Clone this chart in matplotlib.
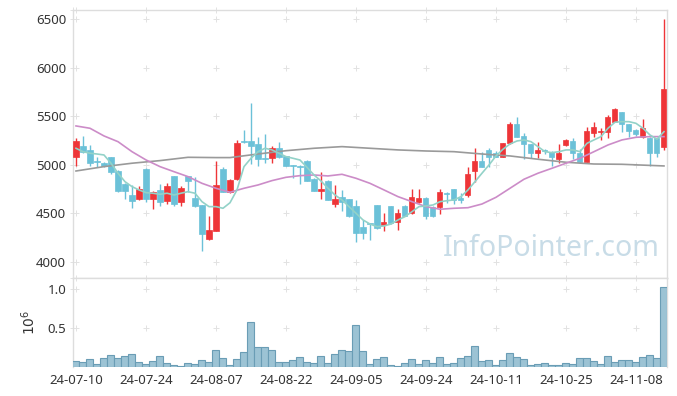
import numpy as np
import matplotlib
matplotlib.use('Agg')
import matplotlib.pyplot as plt

plt.rcParams['font.family'] = ['Noto Sans', 'DejaVu Sans']

# 거래일 라벨 (10일 간격)
tick_idx = [0, 10, 20, 30, 40, 50, 60, 70, 80]
tick_labels = ['24-07-10', '24-07-24', '24-08-07', '24-08-22', '24-09-05',
               '24-09-24', '24-10-11', '24-10-25', '24-11-08']

opens = [5078, 5195, 5154, 5035, 5023, 5078, 4937, 4803, 4690, 4649,
         4958, 4649, 4742, 4631, 4886, 4621, 4886, 4656, 4587, 4237,
         4322, 4958, 4718, 4852, 5250, 5246, 5215, 5075, 5075, 5171,
         5092, 4998, 4992, 5040, 4855, 4734, 4834, 4597, 4666, 4649,
         4577, 4364, 4398, 4587, 4381, 4577, 4415, 4580, 4502, 4621,
         4662, 4570, 4570, 4714, 4752, 4662, 4690, 4940, 5040, 5154,
         5126, 5085, 5223, 5421, 5298, 5215, 5119, 5150, 5136, 5061,
         5205, 5246, 5126, 5033, 5332, 5336, 5342, 5445, 5542, 5421,
         5360, 5291, 5274, 5274, 5180]
highs = [5280, 5298, 5205, 5078, 5030, 5085, 4947, 4810, 4793, 4786,
         4965, 4731, 4803, 4817, 4890, 4786, 4890, 4872, 4590, 4474,
         5040, 4982, 4855, 5257, 5360, 5635, 5284, 5315, 5195, 5233,
         5095, 5000, 4995, 5050, 4860, 4924, 4840, 4793, 4742, 4652,
         4639, 4433, 4400, 4590, 4508, 4580, 4543, 4585, 4749, 4752,
         4665, 4575, 4749, 4716, 4755, 4714, 4975, 5171, 5136, 5171,
         5140, 5229, 5445, 5497, 5332, 5220, 5239, 5165, 5140, 5212,
         5265, 5280, 5161, 5387, 5439, 5383, 5514, 5590, 5545, 5425,
         5365, 5470, 5291, 5280, 6500]
lows = [4992, 5120, 4989, 4982, 4982, 4906, 4718, 4649, 4553, 4639,
        4621, 4546, 4580, 4594, 4580, 4580, 4718, 4570, 4116, 4230,
        4315, 4718, 4708, 4845, 5223, 5009, 4989, 5017, 5017, 5068,
        4985, 4868, 4800, 4830, 4728, 4649, 4635, 4570, 4525, 4467,
        4203, 4234, 4227, 4340, 4322, 4395, 4330, 4470, 4491, 4604,
        4443, 4460, 4494, 4604, 4597, 4611, 4670, 4827, 4975, 4982,
        5080, 5080, 5215, 5285, 5058, 5075, 5075, 5110, 4989, 5017,
        5195, 5058, 5017, 5030, 5291, 5257, 5280, 5445, 5336, 5284,
        5300, 5274, 4992, 5085, 5154]
closes = [5246, 5136, 5023, 5025, 4989, 4930, 4731, 4731, 4628, 4749,
          4649, 4718, 4621, 4783, 4597, 4759, 4838, 4580, 4288, 4330,
          4793, 4724, 4845, 5229, 5240, 5198, 5061, 5065, 5171, 5085,
          4992, 4990, 4980, 4838, 4734, 4752, 4639, 4649, 4621, 4477,
          4302, 4302, 4395, 4347, 4409, 4405, 4502, 4474, 4673, 4662,
          4474, 4477, 4724, 4697, 4639, 4639, 4906, 5040, 4982, 5078,
          5085, 5223, 5421, 5291, 5212, 5119, 5154, 5145, 5085, 5119,
          5257, 5126, 5033, 5349, 5387, 5352, 5497, 5576, 5421, 5352,
          5318, 5377, 5119, 5119, 5782]

# 거래량 (백만주)
volumes = [0.073, 0.060, 0.098, 0.034, 0.111, 0.150, 0.111, 0.137, 0.162, 0.060,
           0.034, 0.073, 0.137, 0.047, 0.021, 0.009, 0.047, 0.034, 0.085, 0.060,
           0.214, 0.111, 0.021, 0.098, 0.188, 0.573, 0.252, 0.252, 0.214, 0.060,
           0.060, 0.085, 0.124, 0.060, 0.047, 0.137, 0.047, 0.162, 0.214, 0.201,
           0.534, 0.201, 0.034, 0.098, 0.124, 0.021, 0.009, 0.047, 0.098, 0.034,
           0.085, 0.047, 0.124, 0.034, 0.047, 0.111, 0.137, 0.265, 0.073, 0.085,
           0.021, 0.085, 0.175, 0.124, 0.098, 0.021, 0.034, 0.047, 0.021, 0.021,
           0.047, 0.034, 0.111, 0.111, 0.073, 0.034, 0.137, 0.060, 0.085, 0.085,
           0.060, 0.124, 0.150, 0.111, 1.030]

# 이동평균선
ma5 = [5171, 5136, 5120, 5112, 5102, 5017, 4914, 4827, 4776, 4742,
       4714, 4708, 4697, 4708, 4690, 4708, 4724, 4708, 4621, 4570,
       4570, 4553, 4610, 4742, 4982, 5068, 5136, 5171, 5154, 5120,
       5085, 5068, 5050, 4975, 4896, 4834, 4759, 4690, 4639, 4570,
       4502, 4433, 4391, 4364, 4371, 4391, 4433, 4467, 4518, 4570,
       4577, 4587, 4621, 4631, 4639, 4673, 4742, 4827, 4914, 4999,
       5092, 5161, 5215, 5246, 5257, 5239, 5188, 5136, 5126, 5136,
       5154, 5154, 5136, 5222, 5257, 5291, 5377, 5439, 5445, 5445,
       5428, 5377, 5308, 5264, 5342]
ma20_idx = [0, 2, 4, 6, 8, 10, 12, 14, 16, 18, 20, 22, 24, 26, 28, 30, 32, 34,
            36, 38, 40, 42, 44, 46, 48, 50, 52, 54, 56, 58, 60, 62, 64, 66, 68,
            70, 72, 74, 76, 78, 80, 82, 84]
ma20 = [5401, 5377, 5298, 5239, 5136, 5051, 4982, 4930, 4879, 4810, 4759, 4718,
        4759, 4793, 4838, 4872, 4889, 4896, 4886, 4903, 4862, 4810, 4742, 4673,
        4621, 4570, 4543, 4553, 4559, 4597, 4666, 4759, 4852, 4914, 4965, 5017,
        5068, 5136, 5205, 5257, 5284, 5291, 5291]
ma60_idx = [0, 4, 8, 12, 16, 20, 22, 26, 30, 34, 38, 42, 46, 50, 54, 58, 62,
            66, 70, 74, 78, 84]
ma60 = [4937, 4982, 5017, 5044, 5078, 5075, 5075, 5112, 5146, 5171, 5188,
        5171, 5154, 5143, 5136, 5112, 5092, 5058, 5027, 5009, 5006, 4989]

UP = '#ee3538'
DOWN = '#6bc1d8'
GRID = '#e2e2e2'

fig = plt.figure(figsize=(6.77, 3.96), dpi=100)
ax = fig.add_axes([0.1078, 0.2992, 0.8774, 0.6758])
axv = fig.add_axes([0.1078, 0.0732, 0.8774, 0.226], sharex=ax)

x = np.arange(len(closes))
o = np.array(opens)
c = np.array(closes)
colors = [UP if cc >= oo else DOWN for oo, cc in zip(o, c)]
body_lo = np.minimum(o, c)
body_h = np.maximum(np.abs(c - o), 6)

ax.vlines(x, lows, highs, colors=colors, linewidth=1, zorder=3)
ax.bar(x, body_h, bottom=body_lo, width=0.72, color=colors, edgecolor=colors,
       linewidth=0.5, zorder=4)

ax.plot(ma60_idx, ma60, color='#9a9a9a', linewidth=1.2, zorder=5)
ax.plot(ma20_idx, ma20, color='#cc8cc8', linewidth=1.2, zorder=5)
ax.plot(x, ma5, color='#93d2c8', linewidth=1.2, zorder=5)

axv.bar(x, volumes, width=1.0, color='#9cc3d4', edgecolor='#6a9db5', linewidth=0.8, zorder=3)

ax.set_xlim(-0.43, 84.43)
ax.set_ylim(3840, 6596)
axv.set_ylim(0, 1.147)

price_ticks = [4000, 4500, 5000, 5500, 6000, 6500]
vol_ticks = [0.5, 1.0]
ax.set_yticks(price_ticks)
axv.set_yticks(vol_ticks)
axv.set_yticklabels(['0.5', '1.0'])
axv.set_xticks(tick_idx)
axv.set_xticklabels(tick_labels)
plt.setp(ax.get_xticklabels(), visible=False)

# 격자 대신 + 표시
for a, yt, ylim in [(ax, price_ticks, ax.get_ylim()), (axv, vol_ticks, axv.get_ylim())]:
    ys = list(yt) + [ylim[1]]
    xs = list(tick_idx) + [-0.43]
    gx, gy = np.meshgrid(xs, ys)
    a.plot(gx.ravel(), gy.ravel(), linestyle='none', marker='+', ms=4,
           mew=0.7, color=GRID, zorder=1, clip_on=False)
    a.tick_params(length=0, labelsize=9.5, labelcolor='#333333', pad=5)
    for s in a.spines.values():
        s.set_color('#dddddd')
        s.set_linewidth(1)

axv.spines['bottom'].set_visible(False)
axv.set_ylabel(r'$10^{6}$', fontsize=10, color='#333333', labelpad=6)

ax.text(0.988, 0.055, 'InfoPointer.com', transform=ax.transAxes, ha='right', va='bottom',
        fontsize=20.5, color='#c8dce7', zorder=2)

fig.savefig('out.png', dpi=100)
